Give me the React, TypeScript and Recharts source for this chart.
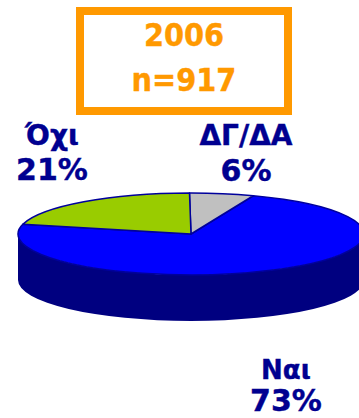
import React from "react";
import { PieChart, Pie, Cell } from "recharts";

const categories = ["Ναι", "ΔΓ/ΔΑ", "Όχι"];
const values = [73, 6, 21];
const colors = ["#0000FF", "#C0C0C0", "#99CC00"];
const titleLines = ["2006", "n=917"];
const labelPositions = [
  { x: 286, y: 379, dy: 32, nameSize: 26 },
  { x: 246, y: 145, dy: 36, nameSize: 28 },
  { x: 52, y: 145, dy: 35, nameSize: 28 },
];

const chartData = categories.map((name, i) => ({ name, value: values[i] }));

const FONT = "'DejaVu Sans', Verdana, sans-serif";
const NAVY = "#000090";
const SQUASH = 41 / 173;
const DEPTH = 46;
const RAD = Math.PI / 180;

const px = (cx: number, r: number, a: number) => cx + r * Math.cos(a * RAD);
const py = (cy: number, r: number, a: number) => cy - r * SQUASH * Math.sin(a * RAD);

function TopSlice(props: any) {
  const { cx, cy, outerRadius: r, startAngle, endAngle, fill } = props;
  const a0 = Math.min(startAngle, endAngle);
  const a1 = Math.max(startAngle, endAngle);
  const large = a1 - a0 > 180 ? 1 : 0;
  const d = `M${cx},${cy} L${px(cx, r, a0)},${py(cy, r, a0)} A${r},${r * SQUASH} 0 ${large} 0 ${px(cx, r, a1)},${py(cy, r, a1)} Z`;
  return <path d={d} fill={fill} stroke="#00009C" strokeWidth={1.5} strokeLinejoin="round" />;
}

function WallSlice(props: any) {
  const { cx, cy, outerRadius: r, startAngle, endAngle } = props;
  const a0 = Math.min(startAngle, endAngle);
  const a1 = Math.max(startAngle, endAngle);
  const from = Math.max(a0, 180);
  const to = Math.min(a1, 360);
  if (to <= from) return null;
  const ry = r * SQUASH;
  const large = to - from > 180 ? 1 : 0;
  const d =
    `M${px(cx, r, from)},${py(cy, r, from)} ` +
    `A${r},${ry} 0 ${large} 0 ${px(cx, r, to)},${py(cy, r, to)} ` +
    `L${px(cx, r, to)},${py(cy, r, to) + DEPTH} ` +
    `A${r},${ry} 0 ${large} 1 ${px(cx, r, from)},${py(cy, r, from) + DEPTH} Z`;
  return <path d={d} fill="#000080" />;
}

function renderLabel(props: any) {
  const { index, name, value } = props;
  const pos = labelPositions[index];
  return (
    <text
      key={name}
      x={pos.x}
      textAnchor="middle"
      fontFamily={FONT}
      fontWeight="bold"
      fill={NAVY}
      stroke={NAVY}
      strokeWidth={0.4}
    >
      <tspan x={pos.x} y={pos.y} fontSize={pos.nameSize}>{name}</tspan>
      <tspan x={pos.x} y={pos.y + pos.dy} fontSize={30}>{`${value}%`}</tspan>
    </text>
  );
}

export default function App() {
  return (
    <div style={{ position: "absolute", left: 0, top: 0, width: 359, height: 418, overflow: "hidden", background: "#fff" }}>
      <PieChart width={359} height={418} margin={{ top: 0, right: 0, bottom: 0, left: 0 }}>
        <Pie
          data={chartData}
          dataKey="value"
          nameKey="name"
          cx={191}
          cy={234}
          innerRadius={0}
          outerRadius={173}
          startAngle={166.1}
          endAngle={526.1}
          paddingAngle={0}
          isAnimationActive={false}
          shape={WallSlice}
          label={false}
          labelLine={false}
        />
        <Pie
          data={chartData}
          dataKey="value"
          nameKey="name"
          cx={191}
          cy={234}
          innerRadius={0}
          outerRadius={173}
          startAngle={166.1}
          endAngle={526.1}
          paddingAngle={0}
          isAnimationActive={false}
          shape={TopSlice}
          label={renderLabel}
          labelLine={false}
        >
          {chartData.map((d, i) => (
            <Cell key={d.name} fill={colors[i]} />
          ))}
        </Pie>
      </PieChart>
      <div
        style={{
          position: "absolute",
          left: 76,
          top: 7,
          width: 200,
          height: 92,
          border: "8px solid #FF9900",
          color: "#FF9900",
          fontFamily: FONT,
          fontWeight: "bold",
          fontSize: 32,
          textAlign: "center",
          lineHeight: "45px",
          WebkitTextStroke: "0.4px #FF9900",
        }}
      >
        {titleLines.map((t) => (
          <div key={t} style={{ transform: "scaleX(0.9)", position: "relative", top: -2 }}>{t}</div>
        ))}
      </div>
    </div>
  );
}
